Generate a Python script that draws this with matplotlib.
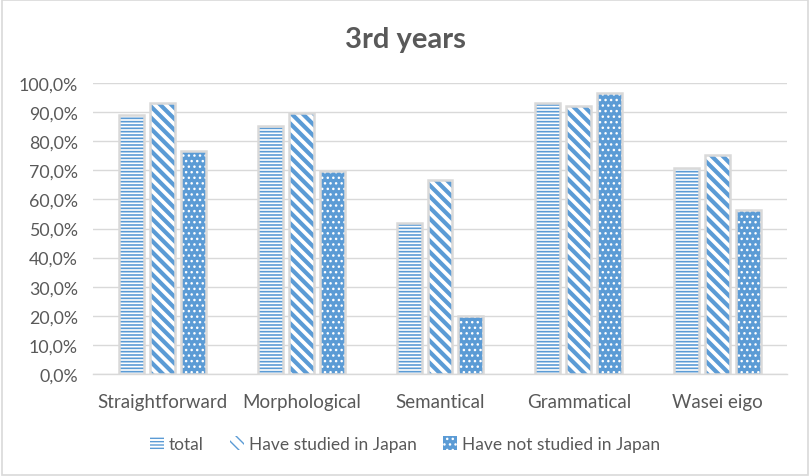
import matplotlib
matplotlib.use("Agg")
import matplotlib.pyplot as plt
import numpy as np
from matplotlib.patches import Patch, Rectangle
from matplotlib.ticker import FuncFormatter

categories = ["Straightforward", "Morphological", "Semantical", "Grammatical", "Wasei eigo"]
series_names = ["total", "Have studied in Japan", "Have not studied in Japan"]
total = [89.0, 85.3, 52.0, 93.2, 70.8]
studied = [93.2, 89.7, 66.5, 92.0, 75.3]
not_studied = [76.5, 69.9, 20.1, 96.5, 56.5]
title = "3rd years"

plt.rcParams['font.family'] = ['Lato', 'DejaVu Sans']

BLUE = "#5B9BD5"
GRAY_TXT = "#595959"
EDGE = "#D9D9D9"
BS = chr(92)

fig = plt.figure(figsize=(8.10, 4.77), dpi=100)
fig.patches.append(Rectangle((0.002, 0.002), 0.996, 0.996, transform=fig.transFigure,
                             fill=False, edgecolor=EDGE, linewidth=1.2))
ax = fig.add_axes([93/810, 1 - 375/477, (787 - 93)/810, (375 - 84)/477])

x = np.arange(len(categories))
w = 0.18
off = 0.223
styles = [
    dict(face="white", hatch="-----", hcol=BLUE, hlw=1.2),
    dict(face="white", hatch=BS * 3, hcol=BLUE, hlw=3.0),
    dict(face=BLUE, hatch="...", hcol="white", hlw=1.0),
]
data = [total, studied, not_studied]
for i, (vals, st) in enumerate(zip(data, styles)):
    xs = x + (i - 1) * off
    with plt.rc_context({'hatch.linewidth': st["hlw"]}):
        ax.bar(xs, vals, w, color=st["face"], hatch=st["hatch"], edgecolor=st["hcol"],
               linewidth=0, zorder=3)
    ax.bar(xs, vals, w, fill=False, edgecolor=EDGE, linewidth=1.8, zorder=4)

ax.set_xlim(-0.5, len(categories) - 0.5)
ax.set_ylim(0, 100)
ax.set_yticks(np.arange(0, 101, 10))
ax.yaxis.set_major_formatter(FuncFormatter(lambda v, p: f"{v:.1f}%".replace(".", ",")))
ax.set_xticks(x)
ax.set_xticklabels(categories)
ax.grid(axis="y", color=EDGE, linewidth=1.0, zorder=0)
ax.set_axisbelow(True)
for s in ["top", "right", "left"]:
    ax.spines[s].set_visible(False)
ax.spines["bottom"].set_color(EDGE)
ax.spines["bottom"].set_linewidth(1.0)
ax.tick_params(axis="both", length=0, colors=GRAY_TXT)
ax.tick_params(axis="y", labelsize=12.8, pad=11)
ax.tick_params(axis="x", labelsize=13.5, pad=14)

fig.text(0.5, 1 - 40/477, title, ha="center", va="center", fontsize=21, fontweight="bold",
         color=GRAY_TXT)

handles = []
for st in styles:
    with plt.rc_context({'hatch.linewidth': st["hlw"]}):
        handles.append(Patch(facecolor=st["face"], hatch=st["hatch"], edgecolor=st["hcol"],
                             linewidth=0))
fig.legend(handles, series_names, loc="center", bbox_to_anchor=(0.5, 1 - 445/477), ncol=3,
           frameon=False, fontsize=12.5, labelcolor=GRAY_TXT, handlelength=0.8,
           handleheight=0.8, handletextpad=0.3, columnspacing=1.5)

fig.savefig("out.png", dpi=100)
